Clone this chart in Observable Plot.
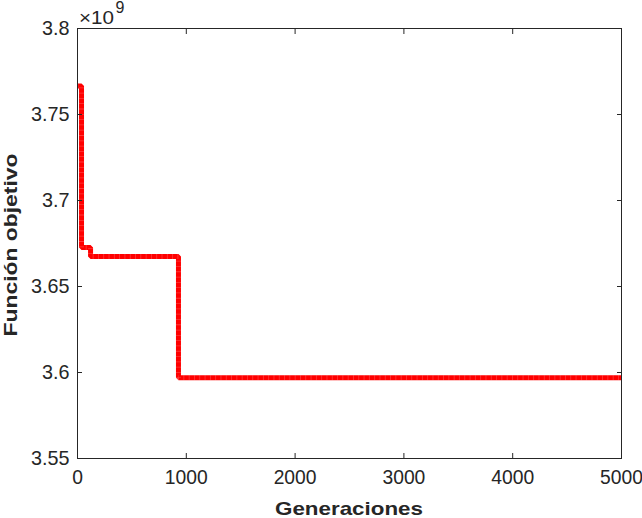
<!DOCTYPE html>
<html><head><meta charset="utf-8">
<script src="https://cdn.jsdelivr.net/npm/d3@7"></script>
<script src="https://cdn.jsdelivr.net/npm/@observablehq/plot@0.6"></script>
<style>body{margin:0;background:#fff} #chart svg{display:block}</style>
</head><body><div id="chart"></div>
<script>
// Step-wise best objective value (units of 1e9) by generation
const generations = [0, 37, 120, 928, 5000];
const objective = [3.7665, 3.6727, 3.6675, 3.5970, 3.5970];
const xTicks = [0, 1000, 2000, 3000, 4000, 5000];
const yTicks = [3.55, 3.6, 3.65, 3.7, 3.75, 3.8];
const xLabel = "Generaciones";
const yLabel = "Función objetivo";
const exponentLabel = "×10";
const exponentPower = "9";

const data = generations.map((g, i) => ({g, v: objective[i]}));
const fmtY = d => String(+d.toFixed(2));
const fmtX = d => String(d);
const font = "'Liberation Sans', Arial, Helvetica, sans-serif";
const ink = "#262626";

const plot = Plot.plot({
  width: 642, height: 518,
  marginLeft: 77, marginRight: 21, marginTop: 28, marginBottom: 60,
  style: {fontFamily: font, fontSize: "19.3px", color: ink, background: "#fff", overflow: "visible"},
  x: {domain: [0, 5000]},
  y: {domain: [3.55, 3.8]},
  marks: [
    Plot.line(data, {x: "g", y: "v", curve: "step-after", stroke: "#ff0000", strokeWidth: 5,
      strokeLinejoin: "miter", strokeLinecap: "butt"}),
    Plot.line(data, {x: "g", y: "v", curve: "step-after", stroke: "#ffffff", strokeOpacity: 0.22,
      strokeWidth: 5, strokeDasharray: "0.8 4.5", strokeLinecap: "butt"}),
    Plot.frame({stroke: ink, strokeWidth: 1}),
    Plot.axisX(xTicks, {anchor: "bottom", tickSize: -5, tickPadding: 17, tickFormat: fmtX, label: null, color: ink, fontSize: 19.3}),
    Plot.axisX(xTicks, {anchor: "top", tickSize: -5, tickFormat: () => "", label: null, color: ink}),
    Plot.axisY(yTicks, {anchor: "left", tickSize: -5, tickPadding: 13, tickFormat: fmtY, label: null, color: ink, fontSize: 19.8}),
    Plot.axisY(yTicks, {anchor: "right", tickSize: -5, tickFormat: () => "", label: null, color: ink})
  ]
});
document.getElementById("chart").appendChild(plot);

const svg = d3.select(plot);
svg.append("text")
  .attr("x", 349).attr("y", 514.5)
  .attr("text-anchor", "middle")
  .attr("font-family", font).attr("font-weight", "bold").attr("font-size", 18.6)
  .attr("fill", ink)
  .attr("textLength", 148).attr("lengthAdjust", "spacingAndGlyphs")
  .text(xLabel);
svg.append("text")
  .attr("transform", "translate(17.3,245) rotate(-90)")
  .attr("text-anchor", "middle")
  .attr("font-family", font).attr("font-weight", "bold").attr("font-size", 18.6)
  .attr("fill", ink)
  .attr("textLength", 183).attr("lengthAdjust", "spacingAndGlyphs")
  .text(yLabel);
svg.append("text")
  .attr("x", 79).attr("y", 24.3)
  .attr("text-anchor", "start")
  .attr("font-family", font).attr("font-size", 17.5)
  .attr("fill", ink)
  .attr("textLength", 35).attr("lengthAdjust", "spacingAndGlyphs")
  .text(exponentLabel);
svg.append("text")
  .attr("x", 115.5).attr("y", 13.2)
  .attr("text-anchor", "start")
  .attr("font-family", font).attr("font-size", 16)
  .attr("fill", ink)
  .text(exponentPower);
</script>
</body></html>
